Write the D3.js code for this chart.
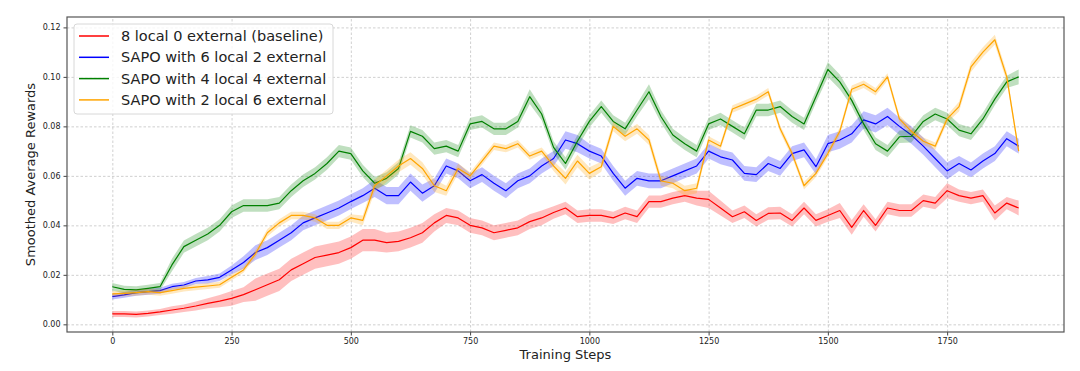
<!DOCTYPE html>
<html>
<head>
<meta charset="utf-8">
<script src="https://cdn.jsdelivr.net/npm/d3@7"></script>
<style>
body { margin: 0; background: #fff; }
#chart { width: 1080px; height: 371px; }
text { font-family: "DejaVu Sans", sans-serif; fill: #222; }
.grid line { stroke: #c4c4c4; stroke-width: 0.8; stroke-dasharray: 2.5,2; }
.grid path { display: none; }
.axis path { display: none; }
.axis line { stroke: #444; }
</style>
</head>
<body>
<div id="chart"></div>
<script>
// training step of every sample
var steps = d3.range(0, 1901, 25);

var xTicks = [0, 250, 500, 750, 1000, 1250, 1500, 1750];
var yTicks = [0, 0.02, 0.04, 0.06, 0.08, 0.10, 0.12];

var names = ["8 local 0 external (baseline)", "SAPO with 6 local 2 external",
	"SAPO with 4 local 4 external", "SAPO with 2 local 6 external"];
var colors = ["#ff0000", "#0000ff", "#008000", "#ffa500"];

var redVals = [
	0.0042, 0.0042, 0.0040, 0.0044, 0.0050, 0.0058, 0.0065, 0.0074, 0.0085, 0.0094,
	0.0105, 0.0120, 0.0140, 0.0160, 0.0180, 0.0220, 0.0245, 0.0270, 0.0280, 0.0290,
	0.0310, 0.0340, 0.0340, 0.0330, 0.0335, 0.0350, 0.0370, 0.0410, 0.0440, 0.0430,
	0.0400, 0.0390, 0.0370, 0.0380, 0.0390, 0.0415, 0.0430, 0.0452, 0.0470, 0.0435,
	0.0440, 0.0440, 0.0430, 0.0450, 0.0435, 0.0496, 0.0496, 0.0510, 0.0520, 0.0510,
	0.0505, 0.0470, 0.0435, 0.0455, 0.0420, 0.0448, 0.0450, 0.0420, 0.0470, 0.0420,
	0.0440, 0.0460, 0.0392, 0.0460, 0.0400, 0.0470, 0.0460, 0.0460, 0.0500, 0.0490,
	0.0540, 0.0520, 0.0510, 0.0520, 0.0450, 0.0490, 0.0470];
var redBand = [
	0.0012, 0.0012, 0.0012, 0.0012, 0.0012, 0.0015, 0.0015, 0.0018, 0.002, 0.0025,
	0.003, 0.003, 0.0045, 0.0045, 0.0045, 0.0045, 0.0045, 0.0045, 0.0045, 0.0045,
	0.0045, 0.0045, 0.0045, 0.004, 0.004, 0.004, 0.004, 0.0035, 0.003, 0.003,
	0.003, 0.003, 0.003, 0.003, 0.003, 0.003, 0.003, 0.0025, 0.0025, 0.0025,
	0.0025, 0.0025, 0.0025, 0.0025, 0.0025, 0.0025, 0.0025, 0.0025, 0.0025, 0.003,
	0.0035, 0.003, 0.0025, 0.0025, 0.0025, 0.0025, 0.0025, 0.0025, 0.0025, 0.0025,
	0.0025, 0.003, 0.003, 0.0025, 0.0025, 0.0025, 0.0025, 0.0025, 0.0025, 0.0025,
	0.003, 0.0025, 0.0025, 0.0025, 0.003, 0.0025, 0.003];

var blueVals = [
	0.0112, 0.0119, 0.0128, 0.0132, 0.0136, 0.0152, 0.0159, 0.0175, 0.0180, 0.0190,
	0.0220, 0.0250, 0.0290, 0.0310, 0.0340, 0.0370, 0.0410, 0.0430, 0.0450, 0.0470,
	0.0496, 0.0520, 0.0550, 0.0520, 0.0520, 0.0575, 0.0530, 0.0560, 0.0640, 0.0620,
	0.0580, 0.0605, 0.0570, 0.0540, 0.0580, 0.0600, 0.0640, 0.0670, 0.0745, 0.0730,
	0.0700, 0.0680, 0.0610, 0.0550, 0.0590, 0.0580, 0.0580, 0.0600, 0.0620, 0.0640,
	0.0700, 0.0677, 0.0664, 0.0610, 0.0605, 0.0650, 0.0630, 0.0690, 0.0705, 0.0637,
	0.0730, 0.0745, 0.0770, 0.0826, 0.0810, 0.0840, 0.0800, 0.0765, 0.0720, 0.0670,
	0.0620, 0.0650, 0.0624, 0.0660, 0.0690, 0.0750, 0.0720];
var blueBand = [
	0.0012, 0.0012, 0.0012, 0.0012, 0.0012, 0.0012, 0.0012, 0.0012, 0.0015, 0.0015,
	0.0018, 0.0025, 0.003, 0.003, 0.003, 0.003, 0.003, 0.003, 0.003, 0.003,
	0.003, 0.003, 0.0035, 0.0035, 0.0035, 0.0035, 0.0035, 0.003, 0.003, 0.003,
	0.003, 0.003, 0.003, 0.003, 0.003, 0.003, 0.003, 0.003, 0.0035, 0.0035,
	0.003, 0.003, 0.003, 0.003, 0.003, 0.003, 0.003, 0.003, 0.003, 0.003,
	0.003, 0.003, 0.003, 0.003, 0.003, 0.003, 0.003, 0.003, 0.003, 0.003,
	0.0035, 0.0035, 0.0035, 0.0035, 0.0035, 0.0035, 0.0035, 0.0035, 0.0035, 0.0035,
	0.0035, 0.003, 0.003, 0.003, 0.003, 0.003, 0.003];

var greenVals = [
	0.0152, 0.0141, 0.0139, 0.0145, 0.0152, 0.0240, 0.0314, 0.0340, 0.0365, 0.0400,
	0.0455, 0.0480, 0.0480, 0.0480, 0.0490, 0.0540, 0.0580, 0.0610, 0.0650, 0.0700,
	0.0690, 0.0620, 0.0570, 0.0590, 0.0630, 0.0780, 0.0760, 0.0710, 0.0720, 0.0700,
	0.0810, 0.0820, 0.0790, 0.0790, 0.0820, 0.0920, 0.0850, 0.0715, 0.0650, 0.0740,
	0.0820, 0.0880, 0.0820, 0.0790, 0.0866, 0.0940, 0.0840, 0.0765, 0.0730, 0.0700,
	0.0810, 0.0830, 0.0800, 0.0770, 0.0866, 0.0866, 0.0880, 0.0840, 0.0810, 0.0920,
	0.1030, 0.0980, 0.0905, 0.0810, 0.0730, 0.0700, 0.0758, 0.0760, 0.0820, 0.0850,
	0.0830, 0.0785, 0.0770, 0.0830, 0.0910, 0.0980, 0.1000];
var greenBand = [
	0.0015, 0.0015, 0.0015, 0.0015, 0.0015, 0.0025, 0.0025, 0.0025, 0.0025, 0.0025,
	0.0025, 0.0025, 0.0025, 0.0025, 0.0025, 0.0025, 0.0025, 0.0025, 0.0025, 0.0025,
	0.0025, 0.0025, 0.0025, 0.0025, 0.0025, 0.0025, 0.0025, 0.0025, 0.0025, 0.0025,
	0.0025, 0.0025, 0.0025, 0.0025, 0.0025, 0.003, 0.0025, 0.0025, 0.0025, 0.0025,
	0.0025, 0.0025, 0.0025, 0.0025, 0.0025, 0.003, 0.0025, 0.0025, 0.0025, 0.0025,
	0.0025, 0.0025, 0.0025, 0.0025, 0.0025, 0.0025, 0.0025, 0.0025, 0.0025, 0.0025,
	0.003, 0.003, 0.0025, 0.0025, 0.0025, 0.0025, 0.0025, 0.0025, 0.0025, 0.0025,
	0.0025, 0.0025, 0.0025, 0.0025, 0.0025, 0.0025, 0.003];

var orangeVals = [
	0.0123, 0.0125, 0.0128, 0.0132, 0.0128, 0.0136, 0.0145, 0.0150, 0.0155, 0.0160,
	0.0190, 0.0220, 0.0285, 0.0370, 0.0410, 0.0440, 0.0440, 0.0430, 0.0400, 0.0400,
	0.0430, 0.0420, 0.0560, 0.0600, 0.0640, 0.0670, 0.0630, 0.0560, 0.0540, 0.0630,
	0.0600, 0.0660, 0.0720, 0.0710, 0.0730, 0.0680, 0.0700, 0.0640, 0.0590, 0.0660,
	0.0610, 0.0637, 0.0800, 0.0760, 0.0790, 0.0745, 0.0580, 0.0570, 0.0540, 0.0550,
	0.0745, 0.0720, 0.0870, 0.0890, 0.0910, 0.0940, 0.0790, 0.0690, 0.0560, 0.0610,
	0.0690, 0.0780, 0.0950, 0.0970, 0.0940, 0.1000, 0.0830, 0.0780, 0.0740, 0.0720,
	0.0830, 0.0880, 0.1040, 0.1100, 0.1150, 0.1000, 0.0700];
var orangeBand = [
	0.0012, 0.0012, 0.0012, 0.0012, 0.0012, 0.0012, 0.0012, 0.0012, 0.0012, 0.0012,
	0.0012, 0.0012, 0.0015, 0.0015, 0.0015, 0.0015, 0.0015, 0.0015, 0.0015, 0.0015,
	0.0015, 0.002, 0.0025, 0.0025, 0.0025, 0.0025, 0.0025, 0.0025, 0.002, 0.002,
	0.0015, 0.0015, 0.0015, 0.0015, 0.0015, 0.0015, 0.0015, 0.002, 0.0025, 0.0025,
	0.0025, 0.002, 0.002, 0.002, 0.002, 0.002, 0.002, 0.002, 0.002, 0.002,
	0.0015, 0.0015, 0.0015, 0.0015, 0.0015, 0.0015, 0.0015, 0.0015, 0.0015, 0.0015,
	0.0015, 0.0015, 0.0015, 0.0015, 0.0015, 0.0015, 0.0015, 0.0015, 0.0015, 0.0015,
	0.0015, 0.002, 0.002, 0.002, 0.002, 0.002, 0.0015];

drawChart();

function drawChart()
{
	var series = [[redVals, redBand], [blueVals, blueBand], [greenVals, greenBand], [orangeVals, orangeBand]]
		.map(function(s, i)
		{
			return { name: names[i], color: colors[i], plot: steps.map(function(t, j)
			{
				return { x: t, y: s[0][j], d: s[1][j] };
			}) };
		});

	var margin = { top: 17, right: 16, bottom: 39, left: 67 },
		width = 1080 - margin.left - margin.right,
		height = 371 - margin.top - margin.bottom;

	var svg = d3.select("#chart").append("svg")
		.attr("width", 1080)
		.attr("height", 371)
		.append("g")
		.attr("transform", "translate(" + margin.left + "," + margin.top + ")");

	var x = d3.scaleLinear()
		.domain([-95, 1995])
		.range([0, width]);

	var y = d3.scaleLinear()
		.domain([-0.0031, 0.1242])
		.range([height, 0]);

	// dashed grid
	svg.append("g")
		.attr("class", "grid")
		.call(d3.axisLeft(y).tickValues(yTicks).tickSize(-width).tickFormat(""));
	svg.append("g")
		.attr("class", "grid")
		.attr("transform", "translate(0," + height + ")")
		.call(d3.axisBottom(x).tickValues(xTicks).tickSize(-height).tickFormat(""));

	var area = d3.area()
		.x(function(d) { return x(d.x); })
		.y0(function(d) { return y(d.y - d.d); })
		.y1(function(d) { return y(d.y + d.d); });

	var line = d3.line()
		.x(function(d) { return x(d.x); })
		.y(function(d) { return y(d.y); });

	var g = svg.selectAll(".series")
		.data(series)
		.enter()
		.append("g")
		.attr("class", "series");

	g.append("path")
		.attr("d", function(d) { return area(d.plot); })
		.style("fill", function(d) { return d.color; })
		.style("opacity", 0.25);

	g.append("path")
		.attr("d", function(d) { return line(d.plot); })
		.style("fill", "none")
		.style("stroke", function(d) { return d.color; })
		.style("stroke-width", 1.2)
		.style("stroke-linejoin", "round");

	// axes
	svg.append("g")
		.attr("class", "axis")
		.attr("transform", "translate(0," + height + ")")
		.call(d3.axisBottom(x).tickValues(xTicks).tickSize(3.5).tickPadding(3).tickFormat(d3.format("d")))
		.selectAll("text")
		.style("font-size", "8px");

	svg.append("g")
		.attr("class", "axis")
		.call(d3.axisLeft(y).tickValues(yTicks).tickSize(3.5).tickPadding(3).tickFormat(d3.format(".2f")))
		.selectAll("text")
		.style("font-size", "8px");

	svg.append("rect")
		.attr("width", width)
		.attr("height", height)
		.style("fill", "none")
		.style("stroke", "#555")
		.style("stroke-width", 1.2);

	svg.append("text")
		.attr("x", width / 2)
		.attr("y", height + 27)
		.attr("text-anchor", "middle")
		.style("font-size", "13px")
		.text("Training Steps");

	svg.append("text")
		.attr("transform", "translate(" + (30 - margin.left) + "," + (height / 2) + ") rotate(-90)")
		.attr("text-anchor", "middle")
		.attr("dy", "0.35em")
		.style("font-size", "13px")
		.text("Smoothed Average Rewards");

	// legend
	var legend = svg.append("g")
		.attr("transform", "translate(7,7)");

	legend.append("rect")
		.attr("width", 259)
		.attr("height", 90)
		.attr("rx", 3)
		.style("fill", "#fff")
		.style("fill-opacity", 0.8)
		.style("stroke", "#d8d8d8");

	var item = legend.selectAll(".item")
		.data(series)
		.enter()
		.append("g")
		.attr("class", "item")
		.attr("transform", function(d, i) { return "translate(0," + (12 + i * 21.3) + ")"; });

	item.append("line")
		.attr("x1", 5)
		.attr("x2", 35)
		.style("stroke", function(d) { return d.color; })
		.style("stroke-width", 1.5);

	item.append("text")
		.attr("x", 47)
		.attr("dy", "0.35em")
		.style("font-size", "14.5px")
		.text(function(d) { return d.name; });
}
</script>
</body>
</html>
